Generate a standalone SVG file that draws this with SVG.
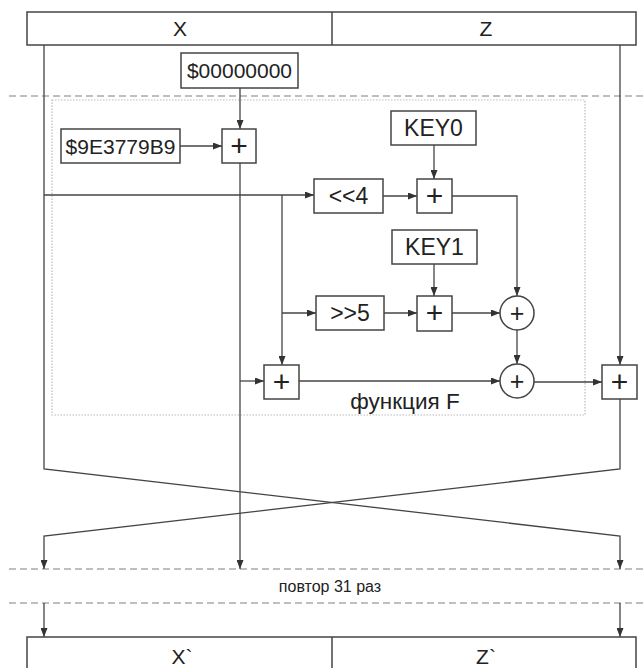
<svg xmlns="http://www.w3.org/2000/svg" width="644" height="668" viewBox="0 0 644 668">
<style>
.box{fill:#fff;stroke:#444;stroke-width:1.5}
.ln{fill:none;stroke:#444;stroke-width:1.3}
.arr{fill:none;stroke:#444;stroke-width:1.3;marker-end:url(#ah)}
.dash{fill:none;stroke:#aaa;stroke-width:1.3;stroke-dasharray:7,4}
.dot{fill:none;stroke:#bbb;stroke-width:1.2;stroke-dasharray:1.5,1.5}
.t{font-family:"Liberation Sans",Arial,sans-serif;fill:#222;text-anchor:middle}
.big{font-size:21px}
.mid{font-size:23px}
.pl{font-size:30px}
.pc{font-size:25px}
</style>
<defs>
<marker id="ah" markerUnits="userSpaceOnUse" markerWidth="9" markerHeight="7" refX="9" refY="3.5" orient="auto">
<path d="M0,0 L9,3.5 L0,7 z" fill="#333"/>
</marker>
</defs>
<rect width="644" height="668" fill="#fff"/>
<g id="separators">
<line class="dash" x1="9" y1="96" x2="644" y2="96"/>
<line class="dash" x1="9" y1="569" x2="644" y2="569"/>
<line class="dash" x1="9" y1="603" x2="644" y2="603"/>
<rect class="dot" x="52" y="100" width="533" height="315"/>
</g>
<g id="connectors">
<polyline class="arr" points="44,45 44,469 620,536 620,569"/>
<polyline class="arr" points="620,45 620,365"/>
<polyline class="arr" points="620,399 620,469 44,536 44,569"/>
<line class="arr" x1="240" y1="88" x2="240" y2="129"/>
<line class="arr" x1="240" y1="163" x2="240" y2="569"/>
<line class="arr" x1="180" y1="146" x2="222" y2="146"/>
<line class="arr" x1="44" y1="195" x2="314" y2="195"/>
<line class="arr" x1="282" y1="195" x2="282" y2="365"/>
<line class="arr" x1="282" y1="313" x2="316" y2="313"/>
<line class="arr" x1="383" y1="196" x2="417" y2="196"/>
<line class="arr" x1="434" y1="145" x2="434" y2="179"/>
<polyline class="arr" points="452,196 517,196 517,296"/>
<line class="arr" x1="434" y1="264" x2="434" y2="296"/>
<line class="arr" x1="384" y1="313" x2="417" y2="313"/>
<line class="arr" x1="452" y1="313" x2="500" y2="313"/>
<line class="arr" x1="517" y1="330" x2="517" y2="364"/>
<line class="arr" x1="240" y1="381" x2="264" y2="381"/>
<line class="arr" x1="299" y1="381" x2="500" y2="381"/>
<line class="arr" x1="534" y1="382" x2="602" y2="382"/>
<line class="arr" x1="44" y1="603" x2="44" y2="637"/>
<line class="arr" x1="620" y1="603" x2="620" y2="637"/>
</g>
<g id="top-block">
<rect class="box" x="27" y="12" width="609" height="33"/>
<line class="ln" x1="332" y1="12" x2="332" y2="45" style="stroke-width:1.5"/>
<text class="t big" x="180" y="36">X</text>
<text class="t big" x="486" y="36">Z</text>
</g>
<g id="bottom-block">
<rect class="box" x="27" y="637" width="609" height="40"/>
<line class="ln" x1="332" y1="637" x2="332" y2="668" style="stroke-width:1.5"/>
<text class="t big" x="182" y="664">X`</text>
<text class="t big" x="486" y="664">Z`</text>
</g>
<g id="const0">
<rect class="box" x="181" y="53" width="117" height="35"/>
<text class="t big" x="239.5" y="78">$00000000</text>
</g>
<g id="delta">
<rect class="box" x="61" y="129" width="119" height="34"/>
<text class="t big" x="120.5" y="153.5">$9E3779B9</text>
</g>
<g id="sumA">
<rect class="box" x="222" y="129" width="34" height="34"/>
<text class="t pl" x="239" y="156">+</text>
</g>
<g id="key0">
<rect class="box" x="391" y="111" width="85" height="34"/>
<text class="t mid" x="433.5" y="136">KEY0</text>
</g>
<g id="shl4">
<rect class="box" x="314" y="179" width="69" height="34"/>
<text class="t mid" x="348.5" y="204">&lt;&lt;4</text>
</g>
<g id="sumB">
<rect class="box" x="417" y="179" width="35" height="34"/>
<text class="t pl" x="434.5" y="206">+</text>
</g>
<g id="key1">
<rect class="box" x="392" y="230" width="85" height="34"/>
<text class="t mid" x="434.5" y="255">KEY1</text>
</g>
<g id="shr5">
<rect class="box" x="316" y="296" width="68" height="34"/>
<text class="t mid" x="350" y="321">&gt;&gt;5</text>
</g>
<g id="sumC">
<rect class="box" x="417" y="296" width="35" height="35"/>
<text class="t pl" x="434.5" y="323">+</text>
</g>
<g id="xor1">
<circle class="box" cx="517" cy="313" r="17"/>
<text class="t pc" x="517" y="321.5">+</text>
</g>
<g id="xor2">
<circle class="box" cx="517" cy="381" r="17"/>
<text class="t pc" x="517" y="389.5">+</text>
</g>
<g id="sumD">
<rect class="box" x="264" y="365" width="35" height="34"/>
<text class="t pl" x="281.5" y="392">+</text>
</g>
<g id="sumFinal">
<rect class="box" x="602" y="365" width="35" height="34"/>
<text class="t pl" x="619.5" y="392">+</text>
</g>
<g id="labels">
<text class="t" x="405" y="409" style="font-size:22.5px">функция F</text>
<text class="t" x="330" y="592" style="font-size:16px">повтор 31 раз</text>
</g>
</svg>
